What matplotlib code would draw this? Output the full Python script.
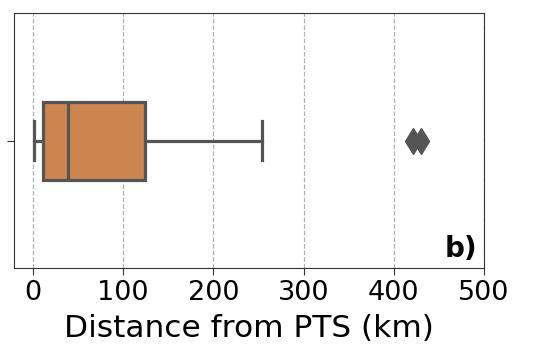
import matplotlib
matplotlib.use("Agg")
import matplotlib.pyplot as plt

# box statistics (km)
whisker_low = 1.2
q1 = 10.7
median = 38.4
q3 = 124.0
whisker_high = 254.0
outliers = [421.0, 430.0]

xticks = [0, 100, 200, 300, 400, 500]

stats = [{
    "whislo": whisker_low, "q1": q1, "med": median, "q3": q3,
    "whishi": whisker_high, "fliers": outliers,
}]

fig = plt.figure(figsize=(5.57, 3.54), dpi=100)
ax = fig.add_axes([0.025, 0.243, 0.844, 0.72])

line_col = "#555555"
ax.bxp(stats, positions=[0], widths=0.306, vert=False, patch_artist=True,
       boxprops=dict(facecolor="#cd8550", edgecolor=line_col, linewidth=2.3),
       medianprops=dict(color=line_col, linewidth=2.3),
       whiskerprops=dict(color=line_col, linewidth=2.3),
       capprops=dict(color=line_col, linewidth=2.3),
       flierprops=dict(marker="d", markerfacecolor=line_col,
                       markeredgecolor=line_col, markersize=13))

ax.set_xlim(-21, 500)
ax.set_ylim(-0.5, 0.5)
ax.set_xticks(xticks)
ax.set_yticks([0])
ax.set_yticklabels([""])
ax.tick_params(axis="x", labelsize=19.5, length=5, color="#333333")
ax.tick_params(axis="y", length=5, color="#333333")
ax.grid(axis="x", linestyle="--", color="#b0b0b0", linewidth=0.9)
ax.set_axisbelow(True)
for s in ax.spines.values():
    s.set_color("#333333")

ax.set_xlabel("Distance from PTS (km)", fontsize=22.5, labelpad=6)
ax.text(0.985, 0.043, "b)", transform=ax.transAxes, ha="right", va="baseline",
        fontsize=20, fontweight="bold")

fig.savefig("out.png", dpi=100)
